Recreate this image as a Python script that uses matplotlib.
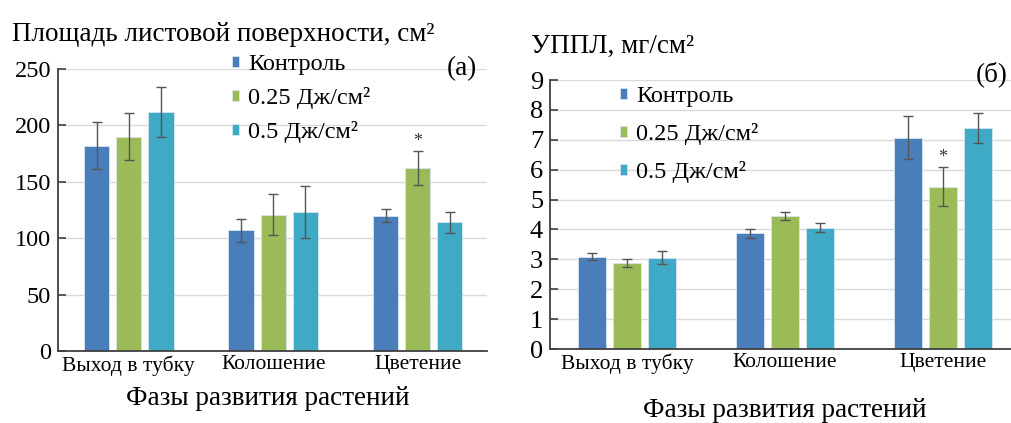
"""
Leaf area and specific leaf weight by development phase (two panels)
"""

import numpy as np
import matplotlib.pyplot as plt

plt.rcParams['font.family'] = 'serif'
plt.rcParams['font.serif'] = ['Liberation Serif', 'DejaVu Serif']

phases = ['Выход в тубку', 'Колошение', 'Цветение']
series = ['Контроль', '0.25 Дж/см²', '0.5 Дж/см²']

# (а) leaf area, cm2
areaControl = [182, 107, 120]
area025 = [190, 121, 162]
area05 = [212, 123, 114]
areaErrControl = [21, 10, 6]
area025Err = [21, 18, 15]
area05Err = [22, 23, 9.5]
areaStars = [(1, 2)]  # (series index, phase index)

# (б) specific leaf weight, mg/cm2
upplControl = [3.09, 3.87, 7.07]
uppl025 = [2.87, 4.45, 5.43]
uppl05 = [3.05, 4.06, 7.39]
upplErrControl = [0.12, 0.16, 0.72]
uppl025Err = [0.13, 0.15, 0.65]
uppl05Err = [0.22, 0.16, 0.50]
upplStars = [(1, 2)]

COLORS = ['#4a7ebb', '#9bbb59', '#3eaac6']
W, H = 1012, 423


def drawPanel(ax, values, errors, stars, ylim, yticks, tickSize, catSize):
    x = np.arange(len(phases))
    offsets = [-0.222, 0, 0.222]
    for i, (vals, errs) in enumerate(zip(values, errors)):
        ax.bar(x + offsets[i], vals, width=0.176, color=COLORS[i], label=series[i],
               edgecolor='#d8e4f0', linewidth=0.6, zorder=2)
        ax.errorbar(x + offsets[i], vals, yerr=errs, fmt='none', ecolor='#555555',
                    elinewidth=1.0, capsize=3.6, capthick=1.0, zorder=3)
    for si, pi in stars:
        top = values[si][pi] + errors[si][pi]
        ax.annotate('*', (x[pi] + offsets[si], top), xytext=(0, 1), textcoords='offset points',
                    ha='center', va='bottom', fontsize=13, color='#333333')

    ax.set_ylim(ylim)
    ax.set_yticks(yticks)
    ax.set_xticks(x)
    ax.set_xticklabels(phases, fontsize=catSize)
    ax.tick_params(axis='x', length=0, pad=3)
    ax.tick_params(axis='y', direction='in', length=6, width=1.2, color='#404040',
                   labelsize=tickSize, pad=5)
    ax.grid(axis='y', color='#d9d9d9', linewidth=1.0, zorder=0)
    ax.set_axisbelow(True)
    for s in ['top', 'right']:
        ax.spines[s].set_visible(False)
    for s in ['left', 'bottom']:
        ax.spines[s].set_color('#404040')
        ax.spines[s].set_linewidth(1.3)


fig = plt.figure(figsize=(W / 100, H / 100), dpi=100)

# left panel
axA = fig.add_axes([58 / W, 1 - 351 / H, (487 - 58) / W, (351 - 69) / H])
drawPanel(axA, [areaControl, area025, area05], [areaErrControl, area025Err, area05Err],
          areaStars, (0, 250), range(0, 251, 50), 17.5, 15.5)
axA.set_xlim(-0.49, 2.48)
axA.legend(loc='upper left', bbox_to_anchor=(232 / W, 1 - 54 / H), bbox_transform=fig.transFigure,
           frameon=False, fontsize=17.5, handlelength=0.29, handleheight=0.29, handletextpad=0.37,
           labelspacing=0.5, borderpad=0, borderaxespad=0)

fig.text(12 / W, 1 - 41 / H, 'Площадь листовой поверхности, см²', fontsize=19.5, va='baseline')
fig.text(477 / W, 1 - 75 / H, '(а)', fontsize=19.5, ha='right', va='baseline')
fig.text(268 / W, 1 - 405 / H, 'Фазы развития растений', fontsize=19.5, ha='center', va='baseline')

# right panel
axB = fig.add_axes([550 / W, 1 - 349 / H, (1012 - 550) / W, (349 - 80) / H])
drawPanel(axB, [upplControl, uppl025, uppl05], [upplErrControl, uppl025Err, uppl05Err],
          upplStars, (0, 9), range(0, 10), 19, 15.5)
axB.set_xlim(-0.487, 2.437)
axB.legend(loc='upper left', bbox_to_anchor=(620 / W, 1 - 86 / H), bbox_transform=fig.transFigure,
           frameon=False, fontsize=17.5, handlelength=0.29, handleheight=0.29, handletextpad=0.37,
           labelspacing=0.66, borderpad=0, borderaxespad=0)

fig.text(531 / W, 1 - 53 / H, 'УППЛ, мг/см²', fontsize=19.5, va='baseline')
fig.text(1008 / W, 1 - 81 / H, '(б)', fontsize=19.5, ha='right', va='baseline')
fig.text(785 / W, 1 - 417 / H, 'Фазы развития растений', fontsize=19.5, ha='center', va='baseline')

plt.savefig('out.png', dpi=100)
